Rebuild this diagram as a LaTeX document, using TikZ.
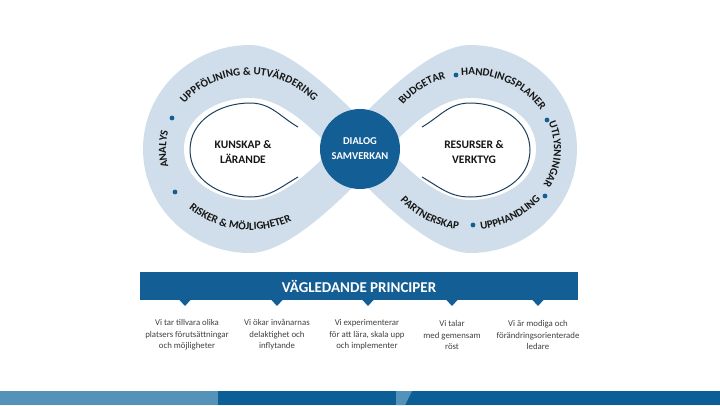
\documentclass[tikz,border=0pt]{standalone}
\usepackage{fontspec}
\setmainfont{Carlito}
\usetikzlibrary{decorations.text}
\definecolor{band}{HTML}{CFDEEA}
\definecolor{navy}{HTML}{145E96}
\definecolor{lineblue}{HTML}{1E3F5C}
\definecolor{bandtext}{HTML}{161616}
\definecolor{greytext}{HTML}{404040}
\definecolor{barlight}{HTML}{5592BA}
\definecolor{bardark}{HTML}{0C5E96}
\newcommand\bandfont{\fontsize{11}{12}\selectfont\bfseries\color{bandtext}}
\begin{document}
\begin{tikzpicture}[x=1pt,y=-1pt,
  bandlabel/.style={decorate,decoration={text along path,text align=center,text={|\bandfont|#1}}},
  centertext/.style={font=\fontsize{11.5}{15}\selectfont\bfseries,text=bandtext,align=center,inner sep=0pt},
  coltext/.style={font=\fontsize{8.8}{11.5}\selectfont,text=greytext,align=center,inner sep=0pt},
  banddot/.style={fill=navy},
  innerline/.style={draw=lineblue,line width=1pt},
  notch/.style={fill=navy}]
\useasboundingbox (0,0) rectangle (720,405);
% figure eight band
\fill[band] (360,118) .. controls (334,92) and (286,45) .. (250,45)
  to[out=180,in=90] (143,149) to[out=-90,in=180] (250,253)
  .. controls (286,253) and (334,206) .. (360,180)
  .. controls (386,206) and (434,253) .. (470,253)
  to[out=0,in=-90] (577,149) to[out=90,in=0] (470,45)
  .. controls (434,45) and (386,92) .. cycle;
\fill[white] (332,149) .. controls (312,129) and (282,98) .. (250,98)
  to[out=180,in=90] (184,149) to[out=-90,in=180] (250,200)
  .. controls (282,200) and (312,169) .. cycle;
\fill[white] (388,149) .. controls (408,129) and (438,98) .. (470,98)
  to[out=0,in=90] (536,149) to[out=-90,in=0] (470,200)
  .. controls (438,200) and (408,169) .. cycle;
% thin inner lines
\draw[innerline] (298,127) to[out=150,in=0] (250,103) to[out=180,in=90] (190,150)
  to[out=-90,in=180] (250,197) to[out=0,in=-150] (298,177);
\draw[innerline] (422,127) to[out=30,in=180] (470,103) to[out=0,in=90] (530,150)
  to[out=-90,in=0] (470,197) to[out=180,in=-30] (422,177);
% band labels, left loop
\path[bandlabel={UPPFÖLJNING {\&} UTVÄRDERING}]
  ({250+83*cos(170)},{149-74*sin(170)}) arc[start angle=170,end angle=12,x radius=83pt,y radius=74pt];
\path[bandlabel={ANALYS}]
  ({250+84*cos(215)},{149-74*sin(215)}) arc[start angle=215,end angle=145,x radius=84pt,y radius=74pt];
\path[bandlabel={RISKER {\&} MÖJLIGHETER}]
  ({250+90*cos(198)},{149-81*sin(198)}) arc[start angle=198,end angle=326,x radius=90pt,y radius=81pt];
% band labels, right loop
\path[bandlabel={BUDGETAR}]
  ({470+83*cos(162)},{149-74*sin(162)}) arc[start angle=162,end angle=90,x radius=83pt,y radius=74pt];
\path[bandlabel={HANDLINGSPLANER}]
  ({470+83*cos(112)},{149-74*sin(112)}) arc[start angle=112,end angle=14,x radius=83pt,y radius=74pt];
\path[bandlabel={UTLYSNINGAR}]
  ({470+84*cos(42)},{149-74*sin(42)}) arc[start angle=42,end angle=-50,x radius=84pt,y radius=74pt];
\path[bandlabel={PARTNERSKAP}]
  ({470+90*cos(198)},{149-81*sin(198)}) arc[start angle=198,end angle=282,x radius=90pt,y radius=81pt];
\path[bandlabel={UPPHANDLING}]
  ({470+90*cos(258)},{149-81*sin(258)}) arc[start angle=258,end angle=342,x radius=90pt,y radius=81pt];
% dots
\fill[banddot] (172,118) circle[radius=2.4pt];
\fill[banddot] (175,192) circle[radius=2.4pt];
\fill[banddot] (456,75) circle[radius=2.4pt];
\fill[banddot] (547,120) circle[radius=2.4pt];
\fill[banddot] (545,196) circle[radius=2.4pt];
\fill[banddot] (473,225) circle[radius=2.4pt];
% centre circle and texts
\node[circle,fill=navy,minimum size=80pt,inner sep=0pt,text=white,align=center,
  font=\fontsize{10.5}{15}\selectfont\bfseries] (dialog) at (360,149) {DIALOG\\SAMVERKAN};
\node[centertext] (kunskap) at (243,152) {KUNSKAP \&\\LÄRANDE};
\node[centertext] (resurser) at (474,152) {RESURSER \&\\VERKTYG};
% banner
\node[fill=navy,minimum width=438pt,minimum height=28pt,inner sep=0pt,text=white,
  font=\fontsize{15}{18}\selectfont\bfseries] (banner) at (359,286) {VÄGLEDANDE PRINCIPER};
\foreach \tx in {185,277,368,452,538}
  \fill[notch] (\tx-6,299.5) -- (\tx+6,299.5) -- (\tx,306) -- cycle;
\node[coltext] (p1) at (187,335) {Vi tar tillvara olika\\platsers förutsättningar\\och möjligheter};
\node[coltext] (p2) at (277,335) {Vi ökar invånarnas\\delaktighet och\\inflytande};
\node[coltext] (p3) at (367,335) {Vi experimenterar\\för att lära, skala upp\\och implementer};
\node[coltext] (p4) at (452,335) {Vi talar\\med gemensam\\röst};
\node[coltext] (p5) at (538,335) {Vi är modiga och\\förändringsorienterade\\ledare};
% bottom bar
\fill[barlight] (0,391) rectangle (218,405);
\fill[bardark] (218,391) rectangle (720,405);
\fill[barlight] (396,391) -- (412,391) -- (405,405) -- (396,405) -- cycle;
\end{tikzpicture}
\end{document}
